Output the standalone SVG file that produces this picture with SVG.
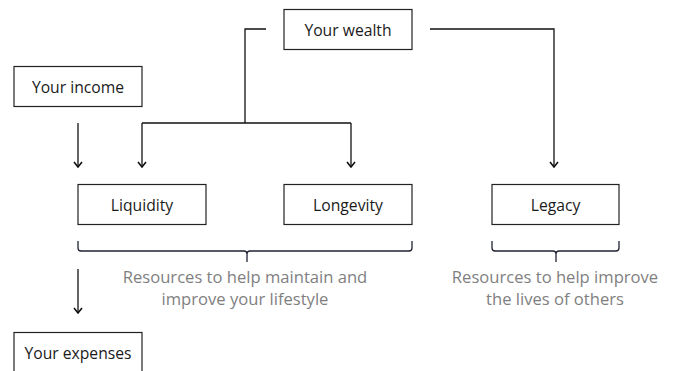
<svg xmlns="http://www.w3.org/2000/svg" width="673" height="371" viewBox="0 0 673 371">
<defs>
<style>
.box{fill:#fff;stroke:#222;stroke-width:1.2}
.lbl{font-family:"Open Sans","Noto Sans",sans-serif;font-size:15.7px;fill:#1a1a1a;text-anchor:middle}
.note{font-family:"Open Sans","Noto Sans",sans-serif;font-size:16.6px;fill:#7f7f7f;text-anchor:middle}
.ln{fill:none;stroke:#111;stroke-width:1.3}
.br{fill:none;stroke:#1f2233;stroke-width:1.3}
</style>
<marker id="ah" viewBox="0 0 8 10" refX="7" refY="5" markerWidth="8" markerHeight="10" markerUnits="userSpaceOnUse" orient="auto">
<path d="M2,1 L7,5 L2,9" fill="none" stroke="#111" stroke-width="1.6"/>
</marker>
</defs>
<rect width="673" height="371" fill="#fff"/>
<g id="connectors">
<path class="ln" d="M266,29 H245 V123 M142,123 H351"/>
<path class="ln" d="M142,123 V167" marker-end="url(#ah)"/>
<path class="ln" d="M351,123 V167" marker-end="url(#ah)"/>
<path class="ln" d="M430,29 H554 V167" marker-end="url(#ah)"/>
<path class="ln" d="M78,123 V167" marker-end="url(#ah)"/>
<path class="ln" d="M78,269 V313" marker-end="url(#ah)"/>
<path class="br" d="M78,241 V248 Q78,251 81,251 H244 Q247,251 247,254 V262 M247,254 Q247,251 250,251 H409 Q412,251 412,248 V241"/>
<path class="br" d="M492,241 V248 Q492,251 495,251 H553 Q556,251 556,254 V262 M556,254 Q556,251 559,251 H616 Q619,251 619,248 V241"/>
</g>
<g id="wealth"><rect class="box" x="284" y="9.5" width="128" height="40"/><text class="lbl" x="348" y="35.5">Your wealth</text></g>
<g id="income"><rect class="box" x="14" y="66.5" width="128" height="40"/><text class="lbl" x="78" y="92.5">Your income</text></g>
<g id="liquidity"><rect class="box" x="78" y="184.5" width="128" height="40"/><text class="lbl" x="142" y="210.5">Liquidity</text></g>
<g id="longevity"><rect class="box" x="284" y="184.5" width="128" height="40"/><text class="lbl" x="348" y="210.5">Longevity</text></g>
<g id="legacy"><rect class="box" x="492" y="184.5" width="127" height="40"/><text class="lbl" x="555.5" y="210.5">Legacy</text></g>
<g id="expenses"><rect class="box" x="14" y="332.5" width="128" height="42"/><text class="lbl" x="78" y="358.5">Your expenses</text></g>
<g id="note-lifestyle"><text class="note" x="245" y="283">Resources to help maintain and</text><text class="note" x="245" y="305">improve your lifestyle</text></g>
<g id="note-others"><text class="note" x="555" y="283">Resources to help improve</text><text class="note" x="555" y="305">the lives of others</text></g>
</svg>
